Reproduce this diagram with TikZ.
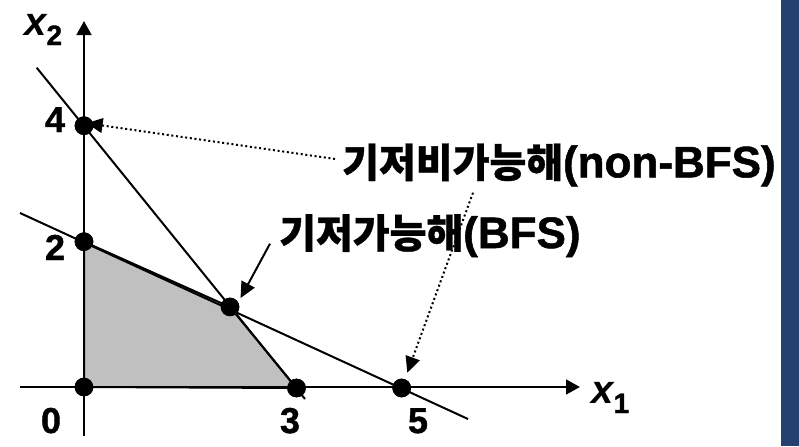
\documentclass[tikz,border=0pt]{standalone}
\usepackage{fontspec}
\setmainfont{Liberation Sans}[BoldFeatures={FakeBold=1.2}]
\newfontfamily\krfont{Noto Sans CJK KR}[BoldFeatures={FakeBold=0.8}]
\usetikzlibrary{arrows.meta,calc}

\definecolor{barblue}{HTML}{23406E}
\definecolor{feasgray}{HTML}{C0C0C0}

\tikzset{
  vertex/.style={circle, fill=black, inner sep=0pt, minimum size=14pt},
  axis/.style={line width=2pt, -{Triangle[length=10.5pt,width=11pt]}},
  constr/.style={line width=1.5pt},
  pointer/.style={line width=1.5pt, -{Triangle[length=12pt,width=11pt]}},
  ticklabel/.style={font=\fontsize{27pt}{27pt}\selectfont\bfseries, inner sep=0pt, anchor=base},
  axlabel/.style={font=\fontsize{30pt}{30pt}\selectfont\bfseries, inner sep=0pt, anchor=base west},
  solname/.style={font=\fontsize{33pt}{33pt}\selectfont\bfseries, inner sep=0pt, anchor=base west},
}

\begin{document}
\begin{tikzpicture}[x=0.75pt,y=-0.75pt]
		\useasboundingbox (0,0) rectangle (799,446);
		
		\coordinate (O) at (84,387);
		\coordinate (Ytop) at (84,21);
		\coordinate (Ybot) at (84,436);
		\coordinate (Xleft) at (20,387);
		\coordinate (Xright) at (580,387);
		\coordinate (L1a) at (36.7,67.7);
		\coordinate (L1b) at (305,399);
		\coordinate (L2a) at (20,213);
		\coordinate (L2b) at (468,419);
		
		% Side bar
		\fill[barblue] (781,0) rectangle (799,446);
		
		% Corner points
		\node[vertex] (p0) at (O) {};
		\node[vertex] (p4) at (84,125.7) {};
		\node[vertex] (p2) at (84,241.7) {};
		\node[vertex] (p3) at (296.5,388) {};
		\node[vertex] (p5) at (401.7,388) {};
		\node[vertex] (pbfs) at (230,307) {};
		
		% Feasible region
		\filldraw[fill=feasgray, line width=1.5pt] (p0.center) -- (p2.center) -- (pbfs.center) -- (p3.center) -- cycle;
		
		% Axes and constraints
		\draw[axis] (Ybot) -- (Ytop);
		\draw[axis] (Xleft) -- (Xright);
		\draw[constr] (L1a) -- (L1b);
		\draw[constr] (L2a) -- (L2b);
		
		% Dots on top
		\foreach \p in {p0,p4,p2,p3,p5,pbfs}
			\fill (\p) circle (7pt);
		
		% Labels
		\node[axlabel] (x2lab) at (24,35) {\textit{x}\kern-1pt\raisebox{-7.5pt}{\fontsize{21pt}{21pt}\selectfont 2}};
		\node[axlabel] (x1lab) at (591,403) {\textit{x}\kern-1pt\raisebox{-7.5pt}{\fontsize{21pt}{21pt}\selectfont 1}};
		
		\node[ticklabel] (t4) at (55,132) {4};
		\node[ticklabel] (t2) at (55,260) {2};
		\node[ticklabel] (t0) at (51,433) {0};
		\node[ticklabel] (t3) at (290,433) {3};
		\node[ticklabel] (t5) at (418,433) {5};
		
		\node[solname] (nonbfs) at (342,177.3) {{\krfont\fontsize{30pt}{30pt}\selectfont 기저비가능해}(non-BFS)};
		\node[solname] (bfs) at (279,248) {{\krfont\fontsize{30pt}{30pt}\selectfont 기저가능해}(BFS)};
		
		% Pointers
		\draw[pointer, dotted] ($(nonbfs.west)+(-7,-6)$) -- ([shift={(-5pt,0)}]p4.15);
		\draw[pointer, dotted, shorten >=5pt] ($(nonbfs.south west)+(131,6)$) -- (p5);
		\draw[pointer, shorten >=3.5pt] ($(bfs.west)+(-9,8)$) -- (pbfs.30);
		
	\end{tikzpicture}
\end{document}
